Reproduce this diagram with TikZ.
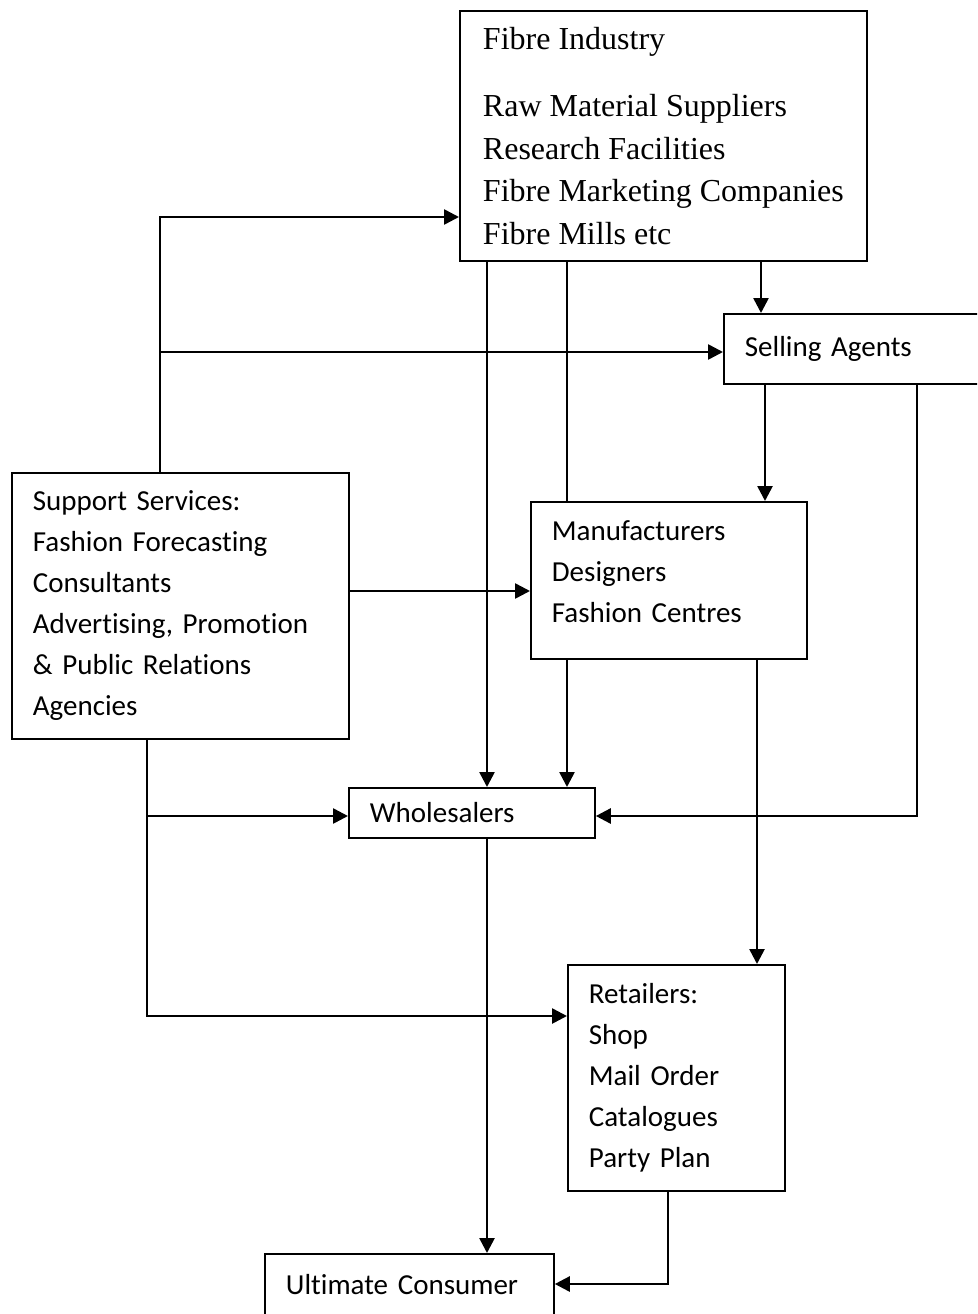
\documentclass[tikz,border=0pt]{standalone}
\usepackage{fontspec}
\setmainfont{Carlito}[Ligatures=NoCommon]
\newfontfamily\timesfont{Liberation Serif}
\usetikzlibrary{arrows.meta,positioning,calc}

\begin{document}
\begin{tikzpicture}[x=1pt,y=-1pt,
    box/.style={draw, line width=1.8pt, anchor=north west, align=left,
        inner xsep=21pt, inner ysep=0pt, font=\fontsize{29}{41}\selectfont},
    conn/.style={line width=2.6pt, -{Triangle[length=15pt,width=15pt]}},
    plainline/.style={line width=2.6pt}]
            \useasboundingbox (0,0) rectangle (977,1314);
            \clip (0,0) rectangle (977,1314);

            % Fibre industry
            \node[box, minimum width=407pt, minimum height=250pt,
                font=\timesfont\fontsize{32}{42.5}\selectfont] (fibre) at (459,10)
                {Fibre Industry\\[25pt]Raw Material Suppliers\\Research Facilities\\Fibre Marketing Companies\\Fibre Mills etc};

            % Selling agents
            \node[box, minimum width=260pt, minimum height=70pt, text width=218pt] (agents) at (723,313) {Selling Agents};

            % Support services
            \node[box, minimum width=337pt, minimum height=266pt, text width=295pt] (support) at (11,472)
                {Support Services:\\Fashion Forecasting\\Consultants\\Advertising, Promotion\\\& Public Relations\\Agencies};

            % Manufacturers
            \node[box, minimum width=276pt, minimum height=157pt, text width=234pt] (makers) at (530,501)
                {Manufacturers\\Designers\\Fashion Centres\\[-24pt]\mbox{}};

            % Wholesalers
            \node[box, minimum width=246pt, minimum height=50pt, text width=204pt] (wholesale) at (348,787) {Wholesalers};

            % Retailers
            \node[box, minimum width=217pt, minimum height=226pt, text width=175pt] (retail) at (567,964)
                {Retailers:\\Shop\\Mail Order\\Catalogues\\Party Plan};

            % Consumer
            \node[box, minimum width=289pt, minimum height=62pt, text width=247pt] (consumer) at (264,1253) {Ultimate Consumer};

            % Support services upwards
            \coordinate (split1) at (160,352);
            \draw[conn] (support.north -| 160,0) |- (fibre.west |- 0,217);
            \draw[conn] (split1) -- (agents.west |- split1);
            \draw[conn] (support.east |- 0,591) -- (makers.west |- 0,591);

            % Fibre industry downwards
            \draw[conn] (fibre.south -| 487,0) -- (wholesale.north -| 487,0);
            \draw[plainline] (fibre.south -| 567,0) -- (makers.north -| 567,0);
            \draw[conn] (fibre.south -| 761,0) -- (agents.north -| 761,0);

            % Selling agents
            \draw[conn] (agents.south -| 765,0) -- (makers.north -| 765,0);
            \draw[conn] (agents.south -| 917,0) |- (wholesale.east |- 0,816);

            % Manufacturers
            \draw[conn] (makers.south -| 567,0) -- (wholesale.north -| 567,0);
            \draw[conn] (makers.south -| 757,0) -- (retail.north -| 757,0);

            % Support services downwards
            \coordinate (split2) at (147,816);
            \draw[conn] (support.south -| 147,0) |- (retail.west |- 0,1016);
            \draw[conn] (split2) -- (wholesale.west |- split2);

            % To consumer
            \draw[conn] (wholesale.south -| 487,0) -- (consumer.north -| 487,0);
            \draw[conn] (retail.south -| 668,0) |- (consumer.east |- 0,1284);
        \end{tikzpicture}
\end{document}
